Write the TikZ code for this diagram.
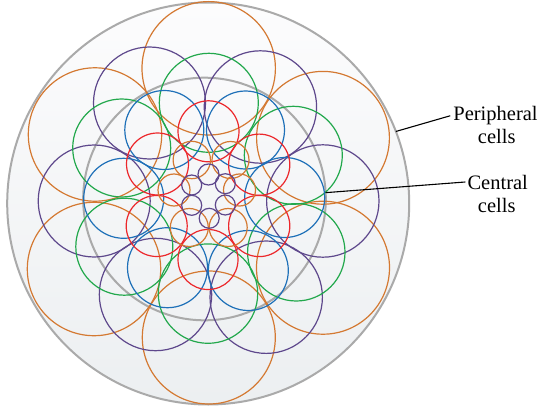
\documentclass[tikz,border=0pt]{standalone}
\usepackage{fontspec}
\setmainfont{Liberation Serif}
\definecolor{oranc}{RGB}{212,121,50}
\definecolor{purpc}{RGB}{94,72,140}
\definecolor{greec}{RGB}{34,168,76}
\definecolor{bluec}{RGB}{30,112,184}
\definecolor{redc}{RGB}{236,40,44}
\definecolor{grayc}{RGB}{170,170,170}
\definecolor{filltop}{RGB}{252,252,253}
\definecolor{fillbot}{RGB}{236,239,241}
\begin{document}
\begin{tikzpicture}[x=1pt,y=-1pt,
  cell/.style={line width=1.2pt},
  graycirc/.style={circle, draw=grayc, line width=2pt, inner sep=0pt, outer sep=0pt},
  lbl/.style={font=\fontsize{20.5}{23}\selectfont, inner sep=0pt, anchor=base},
  leader/.style={line width=1.1pt, black}]
\useasboundingbox (0,0) rectangle (540,409);
\node[graycirc, minimum size=402pt, top color=filltop, bottom color=fillbot] (outer) at (208.2,203.5) {};
\node[graycirc, minimum size=242.6pt] (inner) at (204.5,199) {};
% orange large
\foreach \x/\y/\r in {208.7/68.3/66.7, 95/134.5/66.7, 323/137.8/66.4, 94/269/66.7, 323/267.7/66.5, 208.8/337.5/66.5}
  \draw[cell, oranc] (\x,\y) circle[radius=\r];
% purple large
\foreach \x/\y/\r in {149.5/103/56, 260.4/107/56.2, 94.2/201/56, 322.8/201/56.2, 155.5/294.5/56.2, 266.2/297.2/56.2}
  \draw[cell, purpc] (\x,\y) circle[radius=\r];
% green
\foreach \x/\y/\r in {208.8/102.8/49.5, 121.7/148/49, 293.3/155.3/49, 124.3/246.7/48.5, 296.3/252.3/48.7, 208/293.6/49.7}
  \draw[cell, greec] (\x,\y) circle[radius=\r];
% blue
\foreach \x/\y/\r in {164.3/130/39.5, 245.5/130/39, 123.7/198.3/40, 284.7/197.5/40, 167.5/267.7/40, 248.3/270.5/40}
  \draw[cell, bluec] (\x,\y) circle[radius=\r];
% red
\foreach \x/\y/\r in {208.5/131.3/30.5, 157.5/164/31, 259.2/164.7/30.6, 156.7/226/30.5, 259.2/226/30.6, 208/259.5/30}
  \draw[cell, redc] (\x,\y) circle[radius=\r];
% orange small
\foreach \x/\y/\r in {191.8/160/18.7, 230.5/160/18.5, 174/190/16, 239.5/190/16, 189.3/227.5/19, 228.2/227.5/19}
  \draw[cell, oranc] (\x,\y) circle[radius=\r];
% purple small
\foreach \x/\y/\r in {208.5/174.5/10.5, 191.7/185/10, 225.3/183.7/10, 191.7/205.3/10, 225.3/205/10, 209.2/218.3/10}
  \draw[cell, purpc] (\x,\y) circle[radius=\r];
% labels
\node[lbl] (p1) at (495.5,120.7) {Peripheral};
\node[lbl] (p2) at (496.7,143.3) {cells};
\node[lbl] (c1) at (497.7,189) {Central};
\node[lbl] (c2) at (496.7,212.7) {cells};
\draw[leader] (outer.21.6) -- ([xshift=-3pt]p1.west);
\draw[leader] (inner.3.8) -- ([xshift=-2pt]c1.west);
\end{tikzpicture}
\end{document}
